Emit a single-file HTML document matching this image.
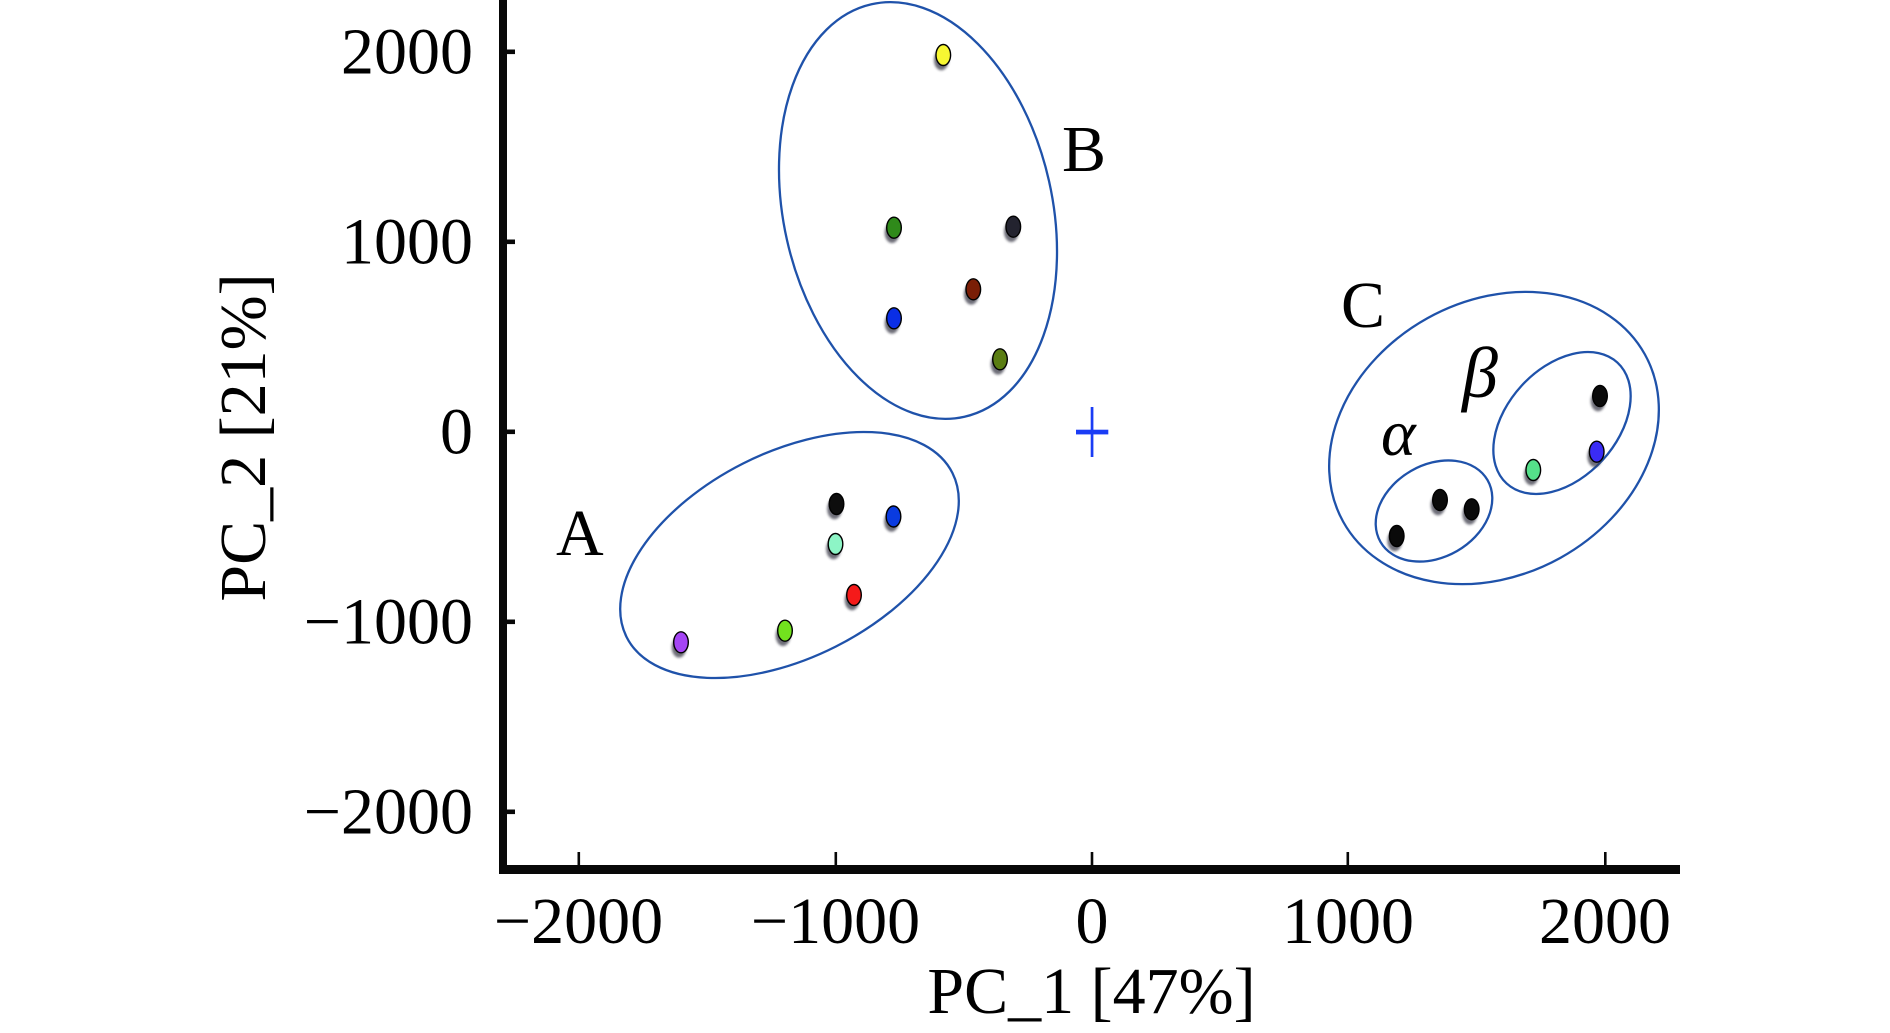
<!DOCTYPE html>
<html>
<head>
<meta charset="utf-8">
<style>
  html, body { margin: 0; padding: 0; background: #ffffff; }
  svg { display: block; }
  text { font-family: "Liberation Serif", "DejaVu Serif", serif; fill: #000; }
</style>
</head>
<body>
<svg width="1890" height="1033" viewBox="0 0 1890 1033" xmlns="http://www.w3.org/2000/svg">
  <defs>
    <filter id="sh" x="-1" y="-1" width="3" height="3">
      <feGaussianBlur stdDeviation="1.4"/>
    </filter>
  </defs>
  <rect x="0" y="0" width="1890" height="1033" fill="#ffffff"/>

  <!-- Axes -->
  <rect x="499" y="0" width="8" height="874" fill="#080808"/>
  <rect x="499" y="865" width="1181" height="9" fill="#080808"/>

  <!-- Y ticks -->
  <rect x="505" y="49.5" width="10" height="4.6" fill="#080808"/>
  <rect x="505" y="239.5" width="10" height="4.6" fill="#080808"/>
  <rect x="505" y="429.5" width="10" height="4.6" fill="#080808"/>
  <rect x="505" y="619.5" width="10" height="4.6" fill="#080808"/>
  <rect x="505" y="809.5" width="10" height="4.6" fill="#080808"/>

  <!-- X ticks -->
  <rect x="577.5" y="852" width="2.6" height="14" fill="#080808"/>
  <rect x="834.5" y="852" width="2.6" height="14" fill="#080808"/>
  <rect x="1090.7" y="852" width="2.6" height="14" fill="#080808"/>
  <rect x="1346.5" y="852" width="2.6" height="14" fill="#080808"/>
  <rect x="1604" y="852" width="2.6" height="14" fill="#080808"/>

  <!-- Y tick labels -->
  <g font-size="66" text-anchor="end">
    <text x="473" y="73.5">2000</text>
    <text x="473" y="263.5">1000</text>
    <text x="473" y="453.5">0</text>
    <text x="473" y="643.5">−1000</text>
    <text x="473" y="833.5">−2000</text>
  </g>

  <!-- X tick labels -->
  <g font-size="66" text-anchor="middle">
    <text x="578.5" y="943">−2000</text>
    <text x="835.5" y="943">−1000</text>
    <text x="1092" y="943">0</text>
    <text x="1348" y="943">1000</text>
    <text x="1605" y="943">2000</text>
  </g>

  <!-- Axis titles -->
  <text x="1091.5" y="1013" font-size="66" text-anchor="middle">PC_1 [47%]</text>
  <text x="265" y="437.5" font-size="66" text-anchor="middle" transform="rotate(-90 265 437.5)">PC_2 [21%]</text>

  <!-- Group ellipses -->
  <g fill="none" stroke="#1f52aa" stroke-width="2.3">
    <ellipse cx="789.5" cy="555" rx="182.4" ry="102.6" transform="rotate(-26.75 789.5 555)"/>
    <ellipse cx="918" cy="210.5" rx="134.3" ry="211.4" transform="rotate(-12.7 918 210.5)"/>
    <ellipse cx="1494" cy="438" rx="172.5" ry="137" transform="rotate(-29 1494 438)"/>
    <ellipse cx="1562" cy="423" rx="82" ry="55" transform="rotate(-47.5 1562 423)"/>
    <ellipse cx="1434" cy="511" rx="61.8" ry="46.2" transform="rotate(-30 1434 511)"/>
  </g>

  <!-- Origin marker -->
  <rect x="1090.7" y="407" width="2.7" height="50" fill="#1a3cf5"/>
  <rect x="1076" y="429.7" width="32.3" height="4.7" fill="#1a3cf5"/>

  <!-- Shadows -->
  <g fill="#3c3c4c" opacity="0.75" filter="url(#sh)">
    <ellipse cx="834.5" cy="509" rx="7.3" ry="10.3"/>
    <ellipse cx="891.5" cy="521.5" rx="7.3" ry="10.3"/>
    <ellipse cx="833.5" cy="549" rx="7.3" ry="10.3"/>
    <ellipse cx="852" cy="600" rx="7.3" ry="10.3"/>
    <ellipse cx="783" cy="635.7" rx="7.3" ry="10.3"/>
    <ellipse cx="679" cy="647.3" rx="7.3" ry="10.3"/>

    <ellipse cx="941.3" cy="60" rx="7.3" ry="10.3"/>
    <ellipse cx="892" cy="232.7" rx="7.3" ry="10.3"/>
    <ellipse cx="1011.3" cy="231.7" rx="7.3" ry="10.3"/>
    <ellipse cx="971.3" cy="294.3" rx="7.3" ry="10.3"/>
    <ellipse cx="892" cy="323.3" rx="7.3" ry="10.3"/>
    <ellipse cx="998" cy="364.3" rx="7.3" ry="10.3"/>

    <ellipse cx="1394.7" cy="541" rx="7.3" ry="10.3"/>
    <ellipse cx="1438" cy="505" rx="7.3" ry="10.3"/>
    <ellipse cx="1469.7" cy="514.3" rx="7.3" ry="10.3"/>
    <ellipse cx="1598" cy="401" rx="7.3" ry="10.3"/>
    <ellipse cx="1594.7" cy="456.7" rx="7.3" ry="10.3"/>
    <ellipse cx="1531.3" cy="475" rx="7.3" ry="10.3"/>
  </g>

  <!-- Points -->
  <g stroke="#000" stroke-width="1.4">
    <!-- Group A -->
    <ellipse cx="836.5" cy="504" rx="7.3" ry="10.5" fill="#0d0d0d"/>
    <ellipse cx="893.5" cy="516.5" rx="7.3" ry="10.5" fill="#0a3be0"/>
    <ellipse cx="835.5" cy="544" rx="7.3" ry="10.5" fill="#8df5c6"/>
    <ellipse cx="854" cy="595" rx="7.3" ry="10.5" fill="#f51a1a"/>
    <ellipse cx="785" cy="630.7" rx="7.3" ry="10.5" fill="#72e21e"/>
    <ellipse cx="681" cy="642.3" rx="7.3" ry="10.5" fill="#a545f5"/>

    <!-- Group B -->
    <ellipse cx="943.3" cy="55" rx="7.3" ry="10.5" fill="#f7f732"/>
    <ellipse cx="894" cy="227.7" rx="7.3" ry="10.5" fill="#2f8a1a"/>
    <ellipse cx="1013.3" cy="226.7" rx="7.3" ry="10.5" fill="#23232f"/>
    <ellipse cx="973.3" cy="289.3" rx="7.3" ry="10.5" fill="#7a1e06"/>
    <ellipse cx="894" cy="318.3" rx="7.3" ry="10.5" fill="#0a2ee6"/>
    <ellipse cx="1000" cy="359.3" rx="7.3" ry="10.5" fill="#5a7d12"/>

    <!-- Group C -->
    <ellipse cx="1396.7" cy="536" rx="7.3" ry="10.5" fill="#0a0a0a"/>
    <ellipse cx="1440" cy="500" rx="7.3" ry="10.5" fill="#0a0a0a"/>
    <ellipse cx="1471.7" cy="509.3" rx="7.3" ry="10.5" fill="#0a0a0a"/>
    <ellipse cx="1600" cy="396" rx="7.3" ry="10.5" fill="#0a0a0a"/>
    <ellipse cx="1596.7" cy="451.7" rx="7.3" ry="10.5" fill="#3a2cf5"/>
    <ellipse cx="1533.3" cy="470" rx="7.3" ry="10.5" fill="#55e08a"/>
  </g>

  <!-- Group labels -->
  <g font-size="66">
    <text x="556" y="555">A</text>
    <text x="1062" y="171">B</text>
    <text x="1341" y="327">C</text>
    <text x="1381" y="455" font-style="italic">α</text>
    <text x="1462" y="397" font-style="italic" font-size="72">β</text>
  </g>
</svg>
</body>
</html>
